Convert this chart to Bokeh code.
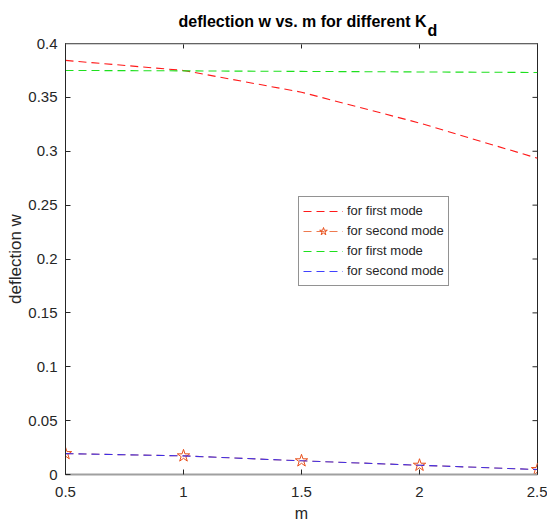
import math
from bokeh.plotting import figure
from bokeh.models import Range1d, LinearAxis, FixedTicker, Legend, LegendItem, Span
from bokeh.embed import file_html
from bokeh.resources import INLINE

# ---- data ----
m = [0.5, 1.0, 1.5, 2.0, 2.5]
w_first_a = [0.3843, 0.3750, 0.3548, 0.3262, 0.2935]
w_second_a = [0.0194, 0.0173, 0.0127, 0.0086, 0.0046]
w_first_b = [0.3750, 0.3746, 0.3741, 0.3736, 0.3731]
w_second_b = [0.0194, 0.0173, 0.0127, 0.0086, 0.0046]

x_ticks = [0.5, 1.0, 1.5, 2.0, 2.5]
x_tick_labels = ["0.5", "1", "1.5", "2", "2.5"]
y_ticks = [0.0, 0.05, 0.1, 0.15, 0.2, 0.25, 0.3, 0.35, 0.4]
y_tick_labels = ["0", "0.05", "0.1", "0.15", "0.2", "0.25", "0.3", "0.35", "0.4"]

legend_labels = ["for first mode", "for second mode", "for first mode", "for second mode"]
title_main = "deflection w vs. m for different K"
title_sub = "d"

X_MIN, X_MAX = 0.5, 2.5
Y_MIN, Y_MAX = 0.0, 0.4

FONT = "Liberation Sans"
DARK = "#262626"
GREY = "#a0a0a0"

p = figure(width=547, height=524, output_backend="svg", toolbar_location=None,
           x_range=Range1d(X_MIN, X_MAX), y_range=Range1d(Y_MIN, Y_MAX),
           x_axis_location=None, y_axis_location=None,
           min_border_left=65, min_border_right=10, min_border_top=43, min_border_bottom=48)
p.outline_line_color = DARK
p.outline_line_width = 1
p.xgrid.visible = False
p.ygrid.visible = False
p.background_fill_color = "white"

# title with the subscript "d" on a second, tightly spaced line,
# pushed right (non-breaking spaces) so that it sits after the "K"
p.title.text = title_main + "\n" + "\u00a0" * 56 + title_sub
p.title.align = "left"
p.title.offset = 113
p.title.standoff = 10
p.title.text_line_height = 0.5
p.title.text_font = FONT
p.title.text_font_size = "16px"
p.title.text_font_style = "bold"
p.title.text_color = "black"


def style_axis(ax, ticks, labels, line_color, line_width):
    ax.ticker = FixedTicker(ticks=ticks)
    ax.major_label_overrides = {t: l for t, l in zip(ticks, labels)}
    ax.major_tick_in = 5
    ax.major_tick_out = 0
    ax.minor_tick_in = 0
    ax.minor_tick_out = 0
    ax.major_tick_line_color = DARK
    ax.axis_line_color = line_color
    ax.axis_line_width = line_width
    ax.major_label_text_font = FONT
    ax.major_label_text_color = DARK
    ax.major_label_text_font_size = "15px"


xb = LinearAxis(axis_label="m")
style_axis(xb, x_ticks, x_tick_labels, GREY, 2)
xb.major_label_standoff = 12
xb.axis_label_standoff = 5
xb.axis_label_text_font = FONT
xb.axis_label_text_font_size = "16px"
xb.axis_label_text_font_style = "normal"
xb.axis_label_text_color = DARK
p.add_layout(xb, "below")

yl = LinearAxis(axis_label="deflection w")
style_axis(yl, y_ticks, y_tick_labels, DARK, 1)
yl.major_label_standoff = 8
yl.axis_label_standoff = 0
yl.axis_label_text_font = FONT
yl.axis_label_text_font_size = "17px"
yl.axis_label_text_font_style = "normal"
yl.axis_label_text_color = DARK
p.add_layout(yl, "left")

# top box edge (grey) and the inward ticks on the top and right edges
p.add_layout(Span(location=Y_MAX, dimension="width", line_color=GREY, line_width=2))
p.scatter(x_ticks, [Y_MAX] * len(x_ticks), marker="dash", angle=math.pi / 2, size=10,
          line_color=DARK, line_width=1)
p.scatter([X_MAX] * len(y_ticks), y_ticks, marker="dash", size=10,
          line_color=DARK, line_width=1)

DASH = "8 5"
r1 = p.line(m, w_first_a, line_color="#ff1a1a", line_width=1.1, line_dash=DASH)
r2l = p.line(m, w_second_a, line_color="#ee7a50", line_width=1.1, line_dash=DASH)
r2s = p.scatter(m, w_second_a, marker="star", size=13, line_color="#e8501c",
                fill_color=None, line_width=1)
r3 = p.line(m, w_first_b, line_color="#1ee01e", line_width=1.1, line_dash=DASH)
r4 = p.line(m, w_second_b, line_color="#2020ff", line_width=1.1, line_dash=DASH,
            line_alpha=0.85)

legend = Legend(items=[
    LegendItem(label=legend_labels[0], renderers=[r1]),
    LegendItem(label=legend_labels[1], renderers=[r2l, r2s]),
    LegendItem(label=legend_labels[2], renderers=[r3]),
    LegendItem(label=legend_labels[3], renderers=[r4]),
], location=(233, 188.5))
legend.glyph_width = 40
legend.glyph_height = 20
legend.label_height = 20
legend.label_standoff = 4
legend.spacing = 0
legend.padding = 4
legend.margin = 0
legend.label_text_font = FONT
legend.label_text_font_size = "13px"
legend.label_text_color = DARK
legend.border_line_color = DARK
legend.border_line_width = 1
legend.background_fill_color = "white"
legend.background_fill_alpha = 1
p.add_layout(legend, "center")

open("out.html", "w").write(file_html(p, INLINE))
